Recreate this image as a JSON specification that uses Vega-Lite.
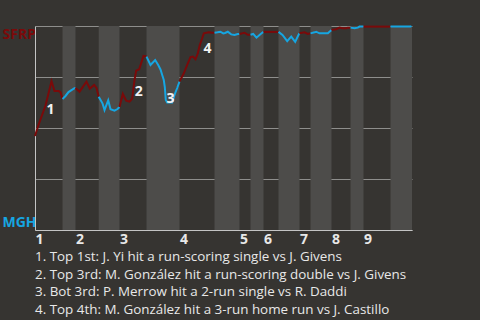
{
  "$schema": "https://vega.github.io/schema/vega-lite/v6.json",
  "width": 377,
  "height": 204,
  "autosize": "none",
  "padding": {"left": 35, "top": 26, "right": 68, "bottom": 90},
  "background": "#363431",
  "config": {
    "view": {"stroke": null},
    "font": "Open Sans"
  },
  "title": {
    "text": [
      "1. Top 1st: J. Yi hit a run-scoring single vs J. Givens",
      "2. Top 3rd: M. González hit a run-scoring double vs J. Givens",
      "3. Bot 3rd: P. Merrow hit a 2-run single vs R. Daddi",
      "4. Top 4th: M. González hit a 3-run home run vs J. Castillo"
    ],
    "orient": "bottom",
    "anchor": "start",
    "frame": "group",
    "font": "Open Sans",
    "fontSize": 13.4,
    "fontWeight": "normal",
    "color": "#e8e8e8",
    "lineHeight": 17.7,
    "baseline": "top",
    "offset": 4
  },
  "datasets": {
    "bands": [
      {"start": 7.3, "end": 10.74},
      {"start": 16.9, "end": 22.41},
      {"start": 29.58, "end": 38.33},
      {"start": 47.61, "end": 54.24},
      {"start": 57.16, "end": 60.61},
      {"start": 64.59, "end": 70.16},
      {"start": 73.08, "end": 78.65},
      {"start": 83.69, "end": 87.14},
      {"start": 94.3, "end": 100}
    ],
    "wp": [
      {"half": "T1", "team": "SFRP", "play": 0, "p": 0.461},
      {"half": "T1", "team": "SFRP", "play": 0.93, "p": 0.515},
      {"half": "T1", "team": "SFRP", "play": 2.79, "p": 0.61},
      {"half": "T1", "team": "SFRP", "play": 4.38, "p": 0.729},
      {"half": "T1", "team": "SFRP", "play": 5.17, "p": 0.681},
      {"half": "T1", "team": "SFRP", "play": 6.23, "p": 0.681},
      {"half": "T1", "team": "SFRP", "play": 6.76, "p": 0.676},
      {"half": "T1", "team": "SFRP", "play": 7.3, "p": 0.642},
      {"half": "B1", "team": "MGH", "play": 7.3, "p": 0.642},
      {"half": "B1", "team": "MGH", "play": 8.09, "p": 0.657},
      {"half": "B1", "team": "MGH", "play": 8.89, "p": 0.676},
      {"half": "B1", "team": "MGH", "play": 9.68, "p": 0.686},
      {"half": "B1", "team": "MGH", "play": 10.48, "p": 0.695},
      {"half": "B1", "team": "MGH", "play": 10.74, "p": 0.696},
      {"half": "T2", "team": "SFRP", "play": 10.74, "p": 0.696},
      {"half": "T2", "team": "SFRP", "play": 11.8, "p": 0.678},
      {"half": "T2", "team": "SFRP", "play": 13.66, "p": 0.727},
      {"half": "T2", "team": "SFRP", "play": 14.54, "p": 0.693},
      {"half": "T2", "team": "SFRP", "play": 15.7, "p": 0.711},
      {"half": "T2", "team": "SFRP", "play": 16.31, "p": 0.696},
      {"half": "T2", "team": "SFRP", "play": 16.9, "p": 0.653},
      {"half": "B2", "team": "MGH", "play": 16.9, "p": 0.653},
      {"half": "B2", "team": "MGH", "play": 17.9, "p": 0.621},
      {"half": "B2", "team": "MGH", "play": 18.44, "p": 0.588},
      {"half": "B2", "team": "MGH", "play": 19.42, "p": 0.636},
      {"half": "B2", "team": "MGH", "play": 20.03, "p": 0.592},
      {"half": "B2", "team": "MGH", "play": 21.09, "p": 0.585},
      {"half": "B2", "team": "MGH", "play": 21.88, "p": 0.593},
      {"half": "B2", "team": "MGH", "play": 22.41, "p": 0.603},
      {"half": "T3", "team": "SFRP", "play": 22.41, "p": 0.603},
      {"half": "T3", "team": "SFRP", "play": 23.29, "p": 0.667},
      {"half": "T3", "team": "SFRP", "play": 24.19, "p": 0.634},
      {"half": "T3", "team": "SFRP", "play": 25.07, "p": 0.629},
      {"half": "T3", "team": "SFRP", "play": 25.78, "p": 0.644},
      {"half": "T3", "team": "SFRP", "play": 26.39, "p": 0.735},
      {"half": "T3", "team": "SFRP", "play": 26.84, "p": 0.781},
      {"half": "T3", "team": "SFRP", "play": 27.64, "p": 0.788},
      {"half": "T3", "team": "SFRP", "play": 28.78, "p": 0.853},
      {"half": "T3", "team": "SFRP", "play": 29.58, "p": 0.85},
      {"half": "B3", "team": "MGH", "play": 29.58, "p": 0.85},
      {"half": "B3", "team": "MGH", "play": 30.64, "p": 0.809},
      {"half": "B3", "team": "MGH", "play": 31.88, "p": 0.833},
      {"half": "B3", "team": "MGH", "play": 32.68, "p": 0.809},
      {"half": "B3", "team": "MGH", "play": 33.29, "p": 0.787},
      {"half": "B3", "team": "MGH", "play": 33.74, "p": 0.76},
      {"half": "B3", "team": "MGH", "play": 34.16, "p": 0.735},
      {"half": "B3", "team": "MGH", "play": 34.43, "p": 0.701},
      {"half": "B3", "team": "MGH", "play": 34.69, "p": 0.637},
      {"half": "B3", "team": "MGH", "play": 35.07, "p": 0.625},
      {"half": "B3", "team": "MGH", "play": 36.39, "p": 0.625},
      {"half": "B3", "team": "MGH", "play": 37.0, "p": 0.662},
      {"half": "B3", "team": "MGH", "play": 37.72, "p": 0.696},
      {"half": "B3", "team": "MGH", "play": 38.33, "p": 0.728},
      {"half": "T4", "team": "SFRP", "play": 38.33, "p": 0.728},
      {"half": "T4", "team": "SFRP", "play": 39.47, "p": 0.768},
      {"half": "T4", "team": "SFRP", "play": 40.37, "p": 0.809},
      {"half": "T4", "team": "SFRP", "play": 41.25, "p": 0.847},
      {"half": "T4", "team": "SFRP", "play": 41.86, "p": 0.85},
      {"half": "T4", "team": "SFRP", "play": 42.57, "p": 0.837},
      {"half": "T4", "team": "SFRP", "play": 43.18, "p": 0.866},
      {"half": "T4", "team": "SFRP", "play": 43.71, "p": 0.907},
      {"half": "T4", "team": "SFRP", "play": 44.35, "p": 0.94},
      {"half": "T4", "team": "SFRP", "play": 44.77, "p": 0.964},
      {"half": "T4", "team": "SFRP", "play": 46.1, "p": 0.969},
      {"half": "T4", "team": "SFRP", "play": 47.0, "p": 0.967},
      {"half": "T4", "team": "SFRP", "play": 47.61, "p": 0.967},
      {"half": "B4", "team": "MGH", "play": 47.61, "p": 0.967},
      {"half": "B4", "team": "MGH", "play": 48.41, "p": 0.969},
      {"half": "B4", "team": "MGH", "play": 49.2, "p": 0.972},
      {"half": "B4", "team": "MGH", "play": 49.92, "p": 0.964},
      {"half": "B4", "team": "MGH", "play": 50.4, "p": 0.966},
      {"half": "B4", "team": "MGH", "play": 51.14, "p": 0.972},
      {"half": "B4", "team": "MGH", "play": 52.04, "p": 0.959},
      {"half": "B4", "team": "MGH", "play": 52.92, "p": 0.956},
      {"half": "B4", "team": "MGH", "play": 53.79, "p": 0.961},
      {"half": "B4", "team": "MGH", "play": 54.24, "p": 0.961},
      {"half": "T5", "team": "SFRP", "play": 54.24, "p": 0.961},
      {"half": "T5", "team": "SFRP", "play": 55.57, "p": 0.967},
      {"half": "T5", "team": "SFRP", "play": 56.45, "p": 0.957},
      {"half": "T5", "team": "SFRP", "play": 57.16, "p": 0.957},
      {"half": "B5", "team": "MGH", "play": 57.16, "p": 0.957},
      {"half": "B5", "team": "MGH", "play": 57.88, "p": 0.961},
      {"half": "B5", "team": "MGH", "play": 58.75, "p": 0.943},
      {"half": "B5", "team": "MGH", "play": 59.55, "p": 0.956},
      {"half": "B5", "team": "MGH", "play": 60.42, "p": 0.969},
      {"half": "B5", "team": "MGH", "play": 60.61, "p": 0.971},
      {"half": "T6", "team": "SFRP", "play": 60.61, "p": 0.971},
      {"half": "T6", "team": "SFRP", "play": 64.59, "p": 0.971},
      {"half": "B6", "team": "MGH", "play": 64.59, "p": 0.971},
      {"half": "B6", "team": "MGH", "play": 65.65, "p": 0.956},
      {"half": "B6", "team": "MGH", "play": 66.9, "p": 0.926},
      {"half": "B6", "team": "MGH", "play": 67.96, "p": 0.948},
      {"half": "B6", "team": "MGH", "play": 69.02, "p": 0.922},
      {"half": "B6", "team": "MGH", "play": 69.97, "p": 0.959},
      {"half": "B6", "team": "MGH", "play": 70.16, "p": 0.964},
      {"half": "T7", "team": "SFRP", "play": 70.16, "p": 0.964},
      {"half": "T7", "team": "SFRP", "play": 71.49, "p": 0.969},
      {"half": "T7", "team": "SFRP", "play": 72.36, "p": 0.961},
      {"half": "T7", "team": "SFRP", "play": 73.08, "p": 0.964},
      {"half": "B7", "team": "MGH", "play": 73.08, "p": 0.964},
      {"half": "B7", "team": "MGH", "play": 74.14, "p": 0.969},
      {"half": "B7", "team": "MGH", "play": 74.59, "p": 0.972},
      {"half": "B7", "team": "MGH", "play": 75.46, "p": 0.964},
      {"half": "B7", "team": "MGH", "play": 77.67, "p": 0.964},
      {"half": "B7", "team": "MGH", "play": 78.12, "p": 0.972},
      {"half": "B7", "team": "MGH", "play": 78.65, "p": 0.98},
      {"half": "T8", "team": "SFRP", "play": 78.65, "p": 0.98},
      {"half": "T8", "team": "SFRP", "play": 79.89, "p": 0.984},
      {"half": "T8", "team": "SFRP", "play": 80.77, "p": 0.992},
      {"half": "T8", "team": "SFRP", "play": 81.64, "p": 0.989},
      {"half": "T8", "team": "SFRP", "play": 82.55, "p": 0.989},
      {"half": "T8", "team": "SFRP", "play": 82.97, "p": 0.992},
      {"half": "T8", "team": "SFRP", "play": 83.69, "p": 0.992},
      {"half": "B8", "team": "MGH", "play": 83.69, "p": 0.992},
      {"half": "B8", "team": "MGH", "play": 84.75, "p": 0.989},
      {"half": "B8", "team": "MGH", "play": 85.63, "p": 0.992},
      {"half": "B8", "team": "MGH", "play": 86.07, "p": 0.997},
      {"half": "B8", "team": "MGH", "play": 87.14, "p": 0.997},
      {"half": "T9", "team": "SFRP", "play": 87.14, "p": 0.997},
      {"half": "T9", "team": "SFRP", "play": 94.3, "p": 0.997},
      {"half": "B9", "team": "MGH", "play": 94.3, "p": 0.997},
      {"half": "B9", "team": "MGH", "play": 99.6, "p": 0.997},
      {"half": "B9", "team": "MGH", "play": 99.87, "p": 1.0}
    ],
    "notes": [
      {"play": 4.11, "p": 0.588, "label": "1"},
      {"play": 27.53, "p": 0.678, "label": "2"},
      {"play": 35.94, "p": 0.644, "label": "3"},
      {"play": 45.76, "p": 0.889, "label": "4"}
    ]
  },
  "layer": [
    {
      "data": {"name": "bands"},
      "mark": {"type": "rect", "color": "#4d4c4a"},
      "encoding": {
        "x": {
          "field": "start", "type": "quantitative",
          "scale": {"domain": [0, 100], "nice": false, "zero": false},
          "axis": {
            "orient": "bottom",
            "values": [0, 10.74, 22.41, 38.33, 54.24, 60.61, 70.16, 78.65, 87.14],
            "labelExpr": "indexof([0, 10.74, 22.41, 38.33, 54.24, 60.61, 70.16, 78.65, 87.14], datum.value) + 1",
            "title": null,
            "grid": false,
            "ticks": false,
            "tickSize": 0,
            "domainColor": "#c4c4c4",
            "domainWidth": 1,
            "labelAlign": "left",
            "labelBaseline": "top",
            "labelPadding": 2,
            "labelFlush": false,
            "labelOverlap": false,
            "labelFont": "Open Sans",
            "labelFontSize": 14,
            "labelFontWeight": "bold",
            "labelColor": "#e8e8e8"
          }
        },
        "x2": {"field": "end"}
      }
    },
    {
      "data": {"name": "wp"},
      "mark": {"type": "line", "strokeWidth": 2, "strokeJoin": "miter", "strokeCap": "butt"},
      "encoding": {
        "x": {"field": "play", "type": "quantitative"},
        "y": {
          "field": "p", "type": "quantitative",
          "scale": {"domain": [0, 1], "nice": false, "zero": false},
          "axis": {
            "orient": "left",
            "values": [0, 0.25, 0.5, 0.75, 1],
            "labelExpr": "datum.value == 1 ? 'SFRP' : datum.value == 0 ? 'MGH' : ''",
            "title": null,
            "grid": true,
            "gridColor": "#8e8e8c",
            "gridWidth": 1,
            "ticks": false,
            "tickSize": 0,
            "domainColor": "#c4c4c4",
            "labelAlign": "left",
            "labelPadding": 33,
            "labelFlush": false,
            "labelOverlap": false,
            "labelBaseline": "alphabetic",
            "labelOffset": {"condition": {"test": "datum.value == 1", "value": 12}, "value": -4},
            "labelColor": {"condition": {"test": "datum.value == 1", "value": "#7a0a0a"}, "value": "#16a6e2"},
            "labelFont": "Open Sans",
            "labelFontSize": 14,
            "labelFontWeight": "bold"
          }
        },
        "color": {
          "field": "team", "type": "nominal",
          "scale": {"domain": ["SFRP", "MGH"], "range": ["#7a0a0a", "#16a6e2"]},
          "legend": null
        },
        "detail": {"field": "half", "type": "nominal"}
      }
    },
    {
      "data": {"name": "notes"},
      "mark": {"type": "text", "font": "Open Sans", "fontSize": 14, "fontWeight": "bold", "color": "#f2f2f2", "align": "center", "baseline": "middle"},
      "encoding": {
        "x": {"field": "play", "type": "quantitative"},
        "y": {"field": "p", "type": "quantitative"},
        "text": {"field": "label"}
      }
    }
  ]
}
